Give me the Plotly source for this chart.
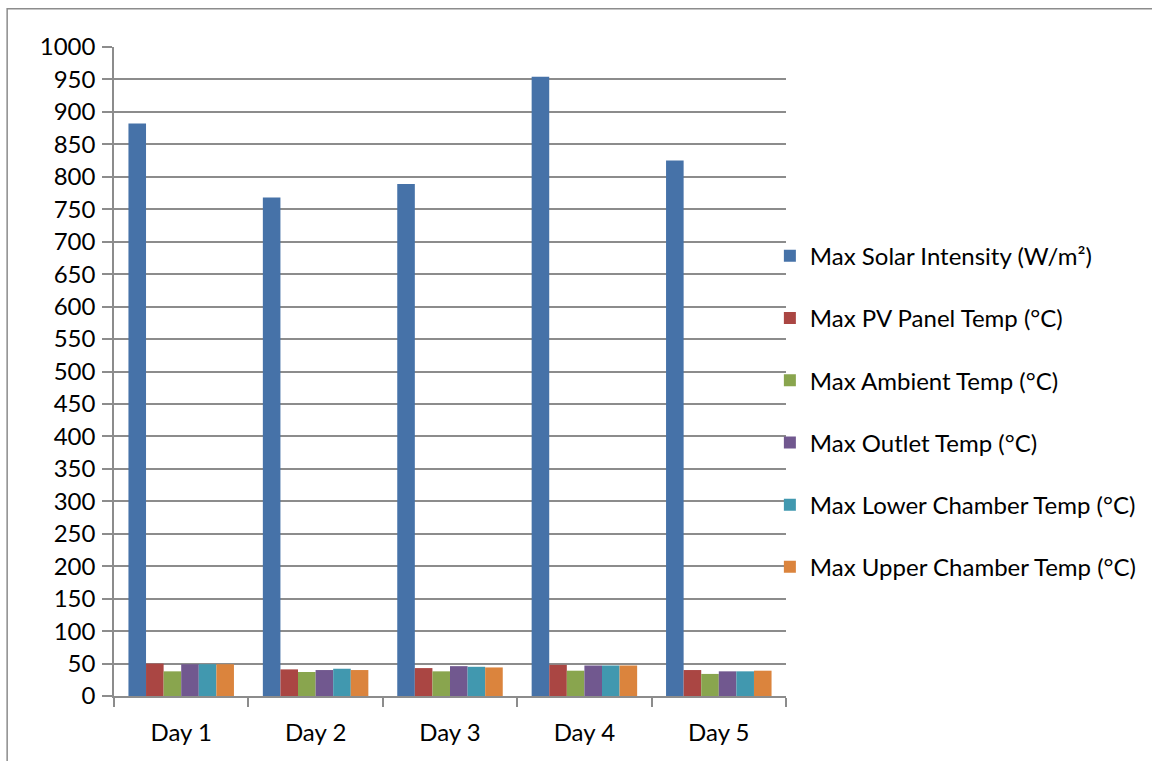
import plotly.graph_objects as go

days = ["Day 1", "Day 2", "Day 3", "Day 4", "Day 5"]

solar_intensity = [882, 768, 789, 954, 825]
pv_panel_temp = [50, 41, 43, 48, 40]
ambient_temp = [38, 37, 38, 39, 34]
outlet_temp = [49, 40, 46, 47, 38]
lower_chamber_temp = [49, 42, 45, 47, 38]
upper_chamber_temp = [49, 40, 44, 47, 39]

series = [
    ("Max Solar Intensity (W/m²)", solar_intensity, "#4672a8"),
    ("Max PV Panel Temp (°C)", pv_panel_temp, "#aa4643"),
    ("Max Ambient Temp (°C)", ambient_temp, "#89a54e"),
    ("Max Outlet Temp (°C)", outlet_temp, "#71588f"),
    ("Max Lower Chamber Temp (°C)", lower_chamber_temp, "#4198af"),
    ("Max Upper Chamber Temp (°C)", upper_chamber_temp, "#db843d"),
]

font_family = "Lato, 'Open Sans', sans-serif"
grid_color = "#8c8c8c"
text_size = 24

fig = go.Figure()
for i, (name, values, color) in enumerate(series):
    fig.add_trace(go.Bar(
        x=days, y=values, name=name,
        marker=dict(color=color, line=dict(width=0)),
        legendgroup=f"g{i}",
    ))

fig.update_layout(
    width=1152, height=761,
    margin=dict(l=114, r=366, t=47, b=65, autoexpand=False),
    paper_bgcolor="white", plot_bgcolor="white",
    barmode="group", bargap=0.215, bargroupgap=0,
    font=dict(family=font_family, size=text_size, color="#000000"),
    legend=dict(
        x=0.976, xanchor="left", xref="paper",
        y=0.438, yanchor="middle",
        font=dict(size=text_size),
        tracegroupgap=28,
        itemwidth=30,
        bgcolor="rgba(0,0,0,0)",
    ),
    showlegend=True,
    shapes=[dict(
        type="rect", xref="paper", yref="paper",
        x0=-0.159, x1=1.7, y0=-0.3, y1=1.059,
        line=dict(color=grid_color, width=1.5),
        fillcolor="rgba(0,0,0,0)", layer="below",
    )],
)

fig.update_yaxes(
    range=[0, 1000], dtick=50, tick0=0,
    showgrid=True, gridcolor=grid_color, gridwidth=1.5,
    showline=True, linecolor=grid_color, linewidth=1.5,
    ticks="outside", ticklen=10, tickcolor=grid_color, tickwidth=1.5,
    zeroline=False, ticklabelstandoff=2,
    tickfont=dict(size=text_size, family=font_family),
)
fig.update_xaxes(
    showline=True, linecolor=grid_color, linewidth=1.5,
    ticks="outside", ticklen=9, tickcolor=grid_color, tickwidth=1.5,
    tickson="boundaries", showgrid=False,
    tickfont=dict(size=text_size, family=font_family),
    ticklabelstandoff=14,
)

fig.write_html("out.html")
